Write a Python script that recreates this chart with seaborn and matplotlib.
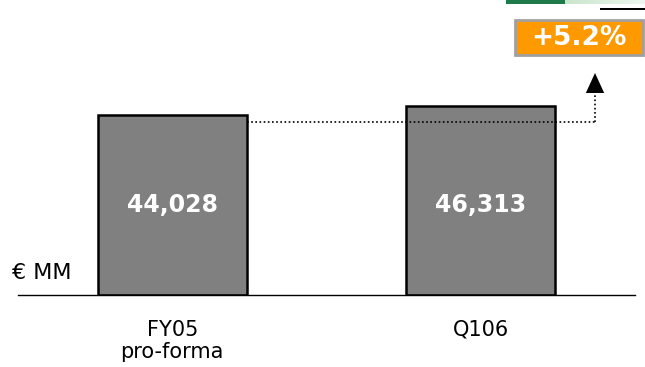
import matplotlib
matplotlib.use("Agg")
import matplotlib.pyplot as plt
import seaborn as sns
import pandas as pd
import numpy as np
from matplotlib.patches import Rectangle

# Loan book figures (€ MM)
periods = ["FY05\npro-forma", "Q106"]
values = [44028, 46313]
value_labels = ["44,028", "46,313"]
growth_label = "+5.2%"
unit_label = "€ MM"

sns.set_theme(style="white")
plt.rcParams["font.family"] = ["DejaVu Sans"]

W, H = 645, 367
fig = plt.figure(figsize=(W / 100, H / 100), dpi=100)
# axes: baseline at 295 px from top, spans x 18..635 px
ax = fig.add_axes([18 / W, 72 / H, 617 / W, 295 / H])

df = pd.DataFrame({"period": periods, "value": values})
sns.barplot(data=df, x="period", y="value", ax=ax, color="#808080",
            saturation=1, width=0.483, edgecolor="black", linewidth=1.8)

ax.set_xlim(-0.5, 1.5)
ax.set_ylim(0, values[0] * 295 / 180)
ax.set_xlabel("")
ax.set_ylabel("")
ax.set_yticks([])
for s in ["top", "left", "right"]:
    ax.spines[s].set_visible(False)
ax.spines["bottom"].set_color("black")
ax.spines["bottom"].set_linewidth(1.0)
ax.tick_params(axis="x", length=0, pad=18, labelsize=15, colors="black")
ax.set_xticks(range(len(periods)))
ax.set_xticklabels(periods, linespacing=1.15)

ymax = ax.get_ylim()[1]
px2val = lambda py: (295 - py) / 295 * ymax
px2x = lambda px: (px - 18) / 308.5 - 0.5

# values inside bars, on a common level
for i, lab in enumerate(value_labels):
    ax.text(i, px2val(205), lab, ha="center", va="center", color="white",
            fontsize=17, fontweight="bold", zorder=5)

# unit label
fig.text(12 / W, 1 - 273 / H, unit_label, ha="left", va="center",
         fontsize=16, color="black")

# dotted connector from first bar level to growth arrow (runs over the second bar)
y_line = px2val(121.5)
x_end = px2x(595)
ax.plot([0 + 0.483 / 2, x_end], [y_line, y_line], color="black",
        linestyle=(0, (1, 1.5)), linewidth=1.2, zorder=4)
ax.plot([x_end, x_end], [y_line, px2val(92)], color="black",
        linestyle=(0, (1, 1.5)), linewidth=1.2, clip_on=False, zorder=4)
ax.annotate("", xy=(x_end, px2val(73)), xytext=(x_end, px2val(94)),
            arrowprops=dict(arrowstyle="-|>,head_length=1.2,head_width=0.55",
                            color="black", lw=0, shrinkA=0, shrinkB=0),
            annotation_clip=False)

# growth badge
fig.patches.append(Rectangle((515 / W, 1 - 55 / H), 128 / W, 35 / H,
                             transform=fig.transFigure, facecolor="#FF9900",
                             edgecolor="#A0A0A0", linewidth=2))
fig.text(579 / W, 1 - 38 / H, growth_label, ha="center", va="center",
         color="white", fontsize=19, fontweight="bold")

# header band
fig.patches.append(Rectangle((506 / W, 1 - 4 / H), 59 / W, 4 / H,
                             transform=fig.transFigure, facecolor="#1F7A4A",
                             edgecolor="none"))
grad = np.linspace(0, 1, 80).reshape(1, -1)
gax = fig.add_axes([565 / W, 1 - 4 / H, 80 / W, 4 / H])
gax.imshow(grad, aspect="auto", cmap=matplotlib.colors.LinearSegmentedColormap.from_list(
    "g", ["#C9E5CC", "#EEF7EF"]))
gax.axis("off")
fig.patches.append(Rectangle((600 / W, 1 - 10 / H), 45 / W, 2 / H,
                             transform=fig.transFigure, facecolor="black",
                             edgecolor="none"))

fig.savefig("out.png", dpi=100)
